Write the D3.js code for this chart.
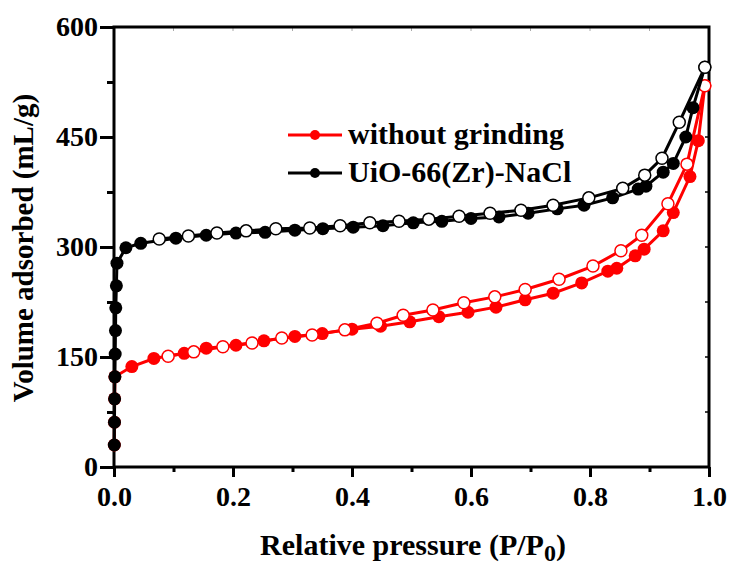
<!DOCTYPE html>
<html lang="en">
  <head>
    <meta charset="UTF-8" />
    <title>N2 isotherms</title>
    <script src="https://d3js.org/d3.v7.min.js"></script>
    <style>
      body {
        margin: 0;
        background: #fff;
      }
      svg text {
        font-family: "Liberation Serif", "Times New Roman", serif !important;
        font-weight: bold;
      }
    </style>
  </head>
  <body>
    <script>
      // tick values
      const xTicks = [0, 0.1, 0.2, 0.3, 0.4, 0.5, 0.6, 0.7, 0.8, 0.9, 1.0];
      const yTicks = [0, 75, 150, 225, 300, 375, 450, 525, 600];

      // without grinding (red): adsorption (filled) / desorption (open)
      const redAdsP = [0.0005, 0.0008, 0.001, 0.0015, 0.03, 0.067, 0.118, 0.155, 0.205, 0.252, 0.304, 0.35, 0.4, 0.448, 0.497, 0.546, 0.595, 0.642, 0.691, 0.738, 0.786, 0.83, 0.845, 0.876, 0.891, 0.923, 0.94, 0.968, 0.982, 0.993];
      const redAdsV = [30, 61, 93, 123, 137, 148, 155, 162, 166, 172, 178, 182, 188, 192, 198, 205, 211, 218, 228, 237, 251, 267, 271, 288, 297, 322, 347, 396, 445, 520];
      const redDesP = [0.993, 0.963, 0.931, 0.887, 0.852, 0.805, 0.748, 0.691, 0.64, 0.588, 0.536, 0.486, 0.442, 0.388, 0.333, 0.282, 0.232, 0.183, 0.134, 0.091];
      const redDesV = [520, 413, 359, 316, 295, 274, 256, 242, 232, 224, 214, 207, 196, 187, 180, 176, 169, 164, 157, 151];

      // UiO-66(Zr)-NaCl (black)
      const blkAdsP = [0.0005, 0.0008, 0.001, 0.0015, 0.002, 0.0025, 0.003, 0.004, 0.005, 0.02, 0.045, 0.104, 0.155, 0.205, 0.254, 0.304, 0.351, 0.402, 0.452, 0.503, 0.551, 0.6, 0.647, 0.696, 0.745, 0.79, 0.838, 0.881, 0.894, 0.923, 0.94, 0.961, 0.973, 0.993];
      const blkAdsV = [30, 61, 93, 123, 154, 186, 217, 247, 278, 299, 305, 312, 316, 319, 320, 323, 325, 327, 329, 333, 335, 339, 341, 346, 352, 357, 367, 379, 383, 402, 414, 450, 490, 545];
      const blkDesP = [0.993, 0.95, 0.921, 0.892, 0.855, 0.798, 0.738, 0.684, 0.632, 0.58, 0.529, 0.479, 0.43, 0.38, 0.329, 0.272, 0.222, 0.173, 0.125, 0.076];
      const blkDesV = [545, 470, 421, 398, 380, 367, 357, 350, 346, 342, 338, 335, 333, 329, 326, 325, 322, 319, 315, 311];

      const series = [
        { name: "without grinding", color: "#ff0000", ads: [redAdsP, redAdsV], des: [redDesP, redDesV] },
        { name: "UiO-66(Zr)-NaCl", color: "#000000", ads: [blkAdsP, blkAdsV], des: [blkDesP, blkDesV] },
      ];

      const width = 730;
      const height = 565;
      const svg = d3
        .select("body")
        .append("svg")
        .attr("width", width)
        .attr("height", height);

      const x = d3.scaleLinear().domain([0, 1]).range([114, 709]);
      const y = d3.scaleLinear().domain([0, 600]).range([467, 27]);

      const isMajorX = (d) => Math.round(d * 10) % 2 === 0;
      const isMajorY = (d) => d % 150 === 0;

      // bottom axis
      const gx = svg
        .append("g")
        .attr("transform", `translate(0,${y(0)})`)
        .call(
          d3.axisBottom(x)
            .tickValues(xTicks)
            .tickSizeOuter(0)
            .tickFormat((d) => (isMajorX(d) ? d.toFixed(1) : ""))
        );
      gx.selectAll(".tick line")
        .attr("y2", (d) => (isMajorX(d) ? 10 : 5))
        .attr("stroke-width", 3);
      gx.selectAll(".tick text")
        .attr("y", 19)
        .attr("dy", "0.71em")
        .style("font-size", "28px");
      gx.select(".domain").remove();

      // left axis
      const gy = svg
        .append("g")
        .attr("transform", `translate(${x(0)},0)`)
        .call(
          d3.axisLeft(y)
            .tickValues(yTicks)
            .tickSizeOuter(0)
            .tickFormat((d) => (isMajorY(d) ? String(d) : ""))
        );
      gy.selectAll(".tick line")
        .attr("x2", (d) => (isMajorY(d) ? -14 : -7))
        .attr("stroke-width", 3);
      gy.selectAll(".tick text")
        .attr("x", -16)
        .style("font-size", "28px");
      gy.select(".domain").remove();

      // top and right inner ticks
      svg.append("g")
        .selectAll("line")
        .data(xTicks.slice(1, -1))
        .join("line")
        .attr("x1", (d) => x(d))
        .attr("x2", (d) => x(d))
        .attr("y1", y(600))
        .attr("y2", y(600) + 4)
        .attr("stroke", "#aaa")
        .attr("stroke-width", 1);
      svg.append("g")
        .selectAll("line")
        .data(yTicks.slice(1, -1))
        .join("line")
        .attr("x1", x(1))
        .attr("x2", x(1) - 4)
        .attr("y1", (d) => y(d))
        .attr("y2", (d) => y(d))
        .attr("stroke", "#000")
        .attr("stroke-width", 1.5);

      // frame
      svg.append("rect")
        .attr("x", x(0))
        .attr("y", y(600))
        .attr("width", x(1) - x(0))
        .attr("height", y(0) - y(600))
        .attr("fill", "none")
        .attr("stroke", "#000")
        .attr("stroke-width", 3);

      // curves
      const line = d3.line().x((d) => x(d[0])).y((d) => y(d[1]));
      const toPts = (pair) => pair[0].map((p, i) => [p, pair[1][i]]);

      series.forEach((s) => {
        const g = svg.append("g");
        const ads = toPts(s.ads);
        const des = toPts(s.des);
        g.append("path")
          .attr("d", line(ads))
          .attr("fill", "none")
          .attr("stroke", s.color)
          .attr("stroke-width", 3);
        g.append("path")
          .attr("d", line(des))
          .attr("fill", "none")
          .attr("stroke", s.color)
          .attr("stroke-width", 3);
        g.selectAll("circle.ads")
          .data(ads)
          .join("circle")
          .attr("class", "ads")
          .attr("cx", (d) => x(d[0]))
          .attr("cy", (d) => y(d[1]))
          .attr("r", 6.5)
          .attr("fill", s.color);
        g.selectAll("circle.des")
          .data(des)
          .join("circle")
          .attr("class", "des")
          .attr("cx", (d) => x(d[0]))
          .attr("cy", (d) => y(d[1]))
          .attr("r", 6)
          .attr("fill", "#fff")
          .attr("stroke", s.color)
          .attr("stroke-width", 1.5);
      });

      // legend
      const legend = svg.append("g").attr("transform", "translate(288,135)");
      series.forEach((s, i) => {
        const row = legend.append("g").attr("transform", `translate(0,${i * 38})`);
        row.append("line")
          .attr("x1", 0)
          .attr("x2", 54)
          .attr("stroke", s.color)
          .attr("stroke-width", 3);
        row.append("circle")
          .attr("cx", 27)
          .attr("r", 5)
          .attr("fill", s.color);
        row.append("text")
          .attr("x", 60)
          .attr("y", 9)
          .style("font-size", "30px")
          .text(s.name);
      });

      // axis titles
      svg.append("text")
        .attr("x", 413)
        .attr("y", 555)
        .attr("text-anchor", "middle")
        .style("font-size", "30px")
        .call((t) => {
          t.append("tspan").text("Relative pressure (P/P");
          t.append("tspan").attr("dy", 6).style("font-size", "24px").text("0");
          t.append("tspan").attr("dy", -6).text(")");
        });

      svg.append("text")
        .attr("transform", "translate(33,248) rotate(-90)")
        .attr("text-anchor", "middle")
        .style("font-size", "29px")
        .text("Volume adsorbed (mL/g)");
    </script>
  </body>
</html>
